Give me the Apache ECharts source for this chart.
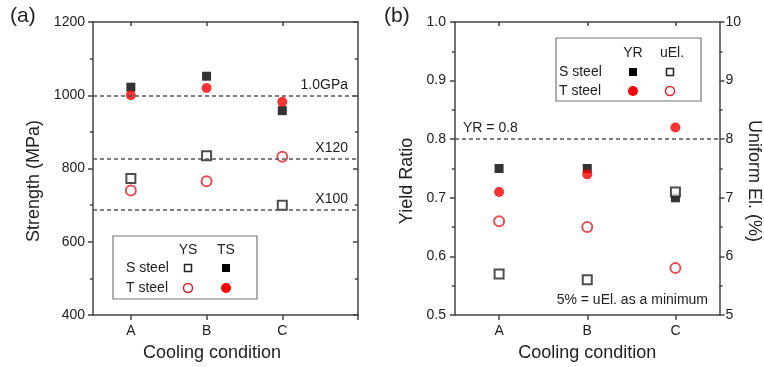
<!DOCTYPE html>
<html>
<head>
<meta charset="utf-8">
<script src="https://cdn.jsdelivr.net/npm/echarts@6/dist/echarts.min.js"></script>
<style>
  html, body { margin: 0; padding: 0; background: #fff; }
  #chart { width: 764px; height: 367px; }
</style>
</head>
<body>
<div id="chart"></div>
<script>
// cooling conditions
const cats = ['A', 'B', 'C'];

// (a) strength, MPa
const sTS = [1022, 1052, 958];
const tTS = [1000, 1020, 982];
const sYS = [773, 835, 700];
const tYS = [740, 765, 832];
const refVals = [1000, 827, 688];
const refNames = ['1.0GPa', 'X120', 'X100'];

// (b) yield ratio and uniform elongation (%)
const sYR = [0.75, 0.75, 0.70];
const tYR = [0.71, 0.74, 0.82];
const sUEl = [5.7, 5.6, 7.1];
const tUEl = [6.6, 6.5, 5.8];
const yrLimit = 0.8;

const FONT = 'Liberation Sans, Arial, sans-serif';
const AX = '#444';
const TXT = '#222';
const RED = '#ff0000';
const RED_OPEN = '#e0202a';

const pts = arr => arr.map((v, i) => [i + 1, v]);
const catLabel = v => cats[Math.round(v) - 1] || '';

const axisLine = { show: true, onZero: false, lineStyle: { color: AX, width: 1.5 } };

function bottomX(idx, max, tickVals) {
  return {
    type: 'value', gridIndex: idx, position: 'bottom', min: 0.5, max: max,
    axisLine: axisLine,
    axisTick: { show: true, customValues: tickVals, length: 5, lineStyle: { color: AX, width: 1.5 } },
    axisLabel: { customValues: [1, 2, 3], formatter: catLabel, fontSize: 14, color: TXT, margin: 9 },
    splitLine: { show: false },
    name: 'Cooling condition', nameLocation: 'middle', nameGap: 29,
    nameTextStyle: { fontSize: 18, color: TXT, padding: idx === 0 ? [0, 27, 0, 0] : [0, 0, 0, 0] }
  };
}
function topX(idx, max) {
  return {
    type: 'value', gridIndex: idx, position: 'top', min: 0.5, max: max,
    axisLine: axisLine,
    axisTick: { show: true, inside: true, customValues: [1, 2, 3], length: 4, lineStyle: { color: AX, width: 1.5 } },
    axisLabel: { show: false }, splitLine: { show: false }
  };
}
function yAx(idx, pos, min, max, interval, opts) {
  return Object.assign({
    type: 'value', gridIndex: idx, position: pos, min: min, max: max, interval: interval,
    axisLine: axisLine,
    axisTick: { show: true, length: 5, lineStyle: { color: AX, width: 1.5 } },
    minorTick: { show: true, splitNumber: 2, length: 3, lineStyle: { color: AX, width: 1.5 } },
    axisLabel: { show: false },
    splitLine: { show: false }
  }, opts);
}

const dashed = { color: '#555', width: 1.5, type: [4, 3] };

const option = {
  animation: false,
  backgroundColor: '#fff',
  textStyle: { fontFamily: FONT, color: TXT },
  grid: [
    { left: 93, top: 22, width: 265, height: 293 },
    { left: 455, top: 22, width: 266, height: 293 }
  ],
  xAxis: [
    bottomX(0, 4, [1, 2, 3, 4]),
    topX(0, 4),
    bottomX(1, 3.5, [1, 2, 3]),
    topX(1, 3.5)
  ],
  yAxis: [
    yAx(0, 'left', 400, 1200, 200, {
      axisLabel: { fontSize: 14, color: TXT, margin: 8, formatter: v => String(v) },
      name: 'Strength (MPa)', nameLocation: 'middle', nameGap: 50,
      nameTextStyle: { fontSize: 18, color: TXT, padding: [0, 25, 0, 0] }
    }),
    yAx(0, 'right', 400, 1200, 200, {
      axisTick: { show: true, inside: true, length: 5, lineStyle: { color: AX, width: 1.5 } }
    }),
    yAx(1, 'left', 0.5, 1.0, 0.1, {
      axisLabel: { fontSize: 14, color: TXT, margin: 9, formatter: v => v.toFixed(1) },
      name: 'Yield Ratio', nameLocation: 'middle', nameGap: 39,
      nameTextStyle: { fontSize: 18, color: TXT, padding: [0, 25, 0, 0] }
    }),
    yAx(1, 'right', 5, 10, 1, {
      axisLabel: { fontSize: 14, color: TXT, margin: 6, formatter: v => String(v) },
      name: 'Uniform El. (%)', nameLocation: 'middle', nameGap: 25, nameRotate: -90,
      nameTextStyle: { fontSize: 18, color: TXT, padding: [0, 0, 0, 25] }
    })
  ],
  series: [
    {
      name: 'S steel TS', type: 'scatter', xAxisIndex: 0, yAxisIndex: 0,
      symbol: 'rect', symbolSize: 9, itemStyle: { color: '#000' },
      data: pts(sTS),
      markLine: {
        silent: true, symbol: 'none', animation: false,
        lineStyle: dashed,
        label: { position: 'insideEndTop', distance: [10, 3], fontSize: 14, color: TXT, formatter: p => p.name },
        data: refVals.map((v, i) => ({ yAxis: v, name: refNames[i] }))
      }
    },
    {
      name: 'T steel TS', type: 'scatter', xAxisIndex: 0, yAxisIndex: 0,
      symbol: 'circle', symbolSize: 10, itemStyle: { color: RED },
      data: pts(tTS)
    },
    {
      name: 'S steel YS', type: 'scatter', xAxisIndex: 0, yAxisIndex: 0,
      symbol: 'emptyRect', symbolSize: 9, itemStyle: { color: '#222', borderWidth: 1.5 },
      data: pts(sYS)
    },
    {
      name: 'T steel YS', type: 'scatter', xAxisIndex: 0, yAxisIndex: 0,
      symbol: 'emptyCircle', symbolSize: 10, itemStyle: { color: RED_OPEN, borderWidth: 1.5 },
      data: pts(tYS)
    },
    {
      name: 'S steel YR', type: 'scatter', xAxisIndex: 2, yAxisIndex: 2,
      symbol: 'rect', symbolSize: 9, itemStyle: { color: '#000' },
      data: pts(sYR),
      markLine: {
        silent: true, symbol: 'none', animation: false,
        lineStyle: dashed,
        label: { position: 'insideStartTop', distance: [8, 4], fontSize: 14, color: TXT, formatter: 'YR = 0.8' },
        data: [{ yAxis: yrLimit }]
      }
    },
    {
      name: 'T steel YR', type: 'scatter', xAxisIndex: 2, yAxisIndex: 2,
      symbol: 'circle', symbolSize: 10, itemStyle: { color: RED },
      data: pts(tYR)
    },
    {
      name: 'S steel uEl', type: 'scatter', xAxisIndex: 2, yAxisIndex: 3,
      symbol: 'emptyRect', symbolSize: 9, itemStyle: { color: '#222', borderWidth: 1.5 },
      data: pts(sUEl)
    },
    {
      name: 'T steel uEl', type: 'scatter', xAxisIndex: 2, yAxisIndex: 3,
      symbol: 'emptyCircle', symbolSize: 10, itemStyle: { color: RED_OPEN, borderWidth: 1.5 },
      data: pts(tUEl)
    }
  ],
  graphic: [
    { type: 'text', left: 10, top: 6, style: { text: '(a)', font: '21px ' + FONT, fill: TXT } },
    { type: 'text', left: 384, top: 6, style: { text: '(b)', font: '21px ' + FONT, fill: TXT } },
    { type: 'text', x: 708, y: 300, style: { text: '5% = uEl. as a minimum', font: '14px ' + FONT, fill: TXT, align: 'right', verticalAlign: 'middle' } },
    // legend (a)
    { type: 'rect', shape: { x: 113, y: 236, width: 144, height: 63 }, style: { fill: '#fff', stroke: '#777', lineWidth: 1.2 }, z: 10 },
    { type: 'text', x: 188, y: 250, z: 11, style: { text: 'YS', font: '14px ' + FONT, fill: TXT, align: 'center', verticalAlign: 'middle' } },
    { type: 'text', x: 226, y: 250, z: 11, style: { text: 'TS', font: '14px ' + FONT, fill: TXT, align: 'center', verticalAlign: 'middle' } },
    { type: 'text', x: 126, y: 268, z: 11, style: { text: 'S steel', font: '14px ' + FONT, fill: TXT, verticalAlign: 'middle' } },
    { type: 'text', x: 126, y: 288, z: 11, style: { text: 'T steel', font: '14px ' + FONT, fill: TXT, verticalAlign: 'middle' } },
    { type: 'rect', z: 11, shape: { x: 184.5, y: 264.5, width: 7, height: 7 }, style: { fill: '#fff', stroke: '#222', lineWidth: 1.5 } },
    { type: 'rect', z: 11, shape: { x: 222, y: 264, width: 8, height: 8 }, style: { fill: '#000' } },
    { type: 'circle', z: 11, shape: { cx: 188, cy: 288, r: 4.5 }, style: { fill: '#fff', stroke: RED_OPEN, lineWidth: 1.5 } },
    { type: 'circle', z: 11, shape: { cx: 226, cy: 288, r: 5 }, style: { fill: RED } },
    // legend (b)
    { type: 'rect', shape: { x: 556, y: 38, width: 145, height: 63 }, style: { fill: '#fff', stroke: '#777', lineWidth: 1.2 }, z: 10 },
    { type: 'text', x: 633, y: 53, z: 11, style: { text: 'YR', font: '14px ' + FONT, fill: TXT, align: 'center', verticalAlign: 'middle' } },
    { type: 'text', x: 672, y: 53, z: 11, style: { text: 'uEl.', font: '14px ' + FONT, fill: TXT, align: 'center', verticalAlign: 'middle' } },
    { type: 'text', x: 559, y: 72, z: 11, style: { text: 'S steel', font: '14px ' + FONT, fill: TXT, verticalAlign: 'middle' } },
    { type: 'text', x: 559, y: 91, z: 11, style: { text: 'T steel', font: '14px ' + FONT, fill: TXT, verticalAlign: 'middle' } },
    { type: 'rect', z: 11, shape: { x: 629, y: 68, width: 8, height: 8 }, style: { fill: '#000' } },
    { type: 'rect', z: 11, shape: { x: 666.5, y: 68.5, width: 7, height: 7 }, style: { fill: '#fff', stroke: '#222', lineWidth: 1.5 } },
    { type: 'circle', z: 11, shape: { cx: 633, cy: 91, r: 5 }, style: { fill: RED } },
    { type: 'circle', z: 11, shape: { cx: 670, cy: 91, r: 4.5 }, style: { fill: '#fff', stroke: RED_OPEN, lineWidth: 1.5 } }
  ]
};

const chart = echarts.init(document.getElementById('chart'), null, { renderer: 'canvas' });
chart.setOption(option);
</script>
</body>
</html>
